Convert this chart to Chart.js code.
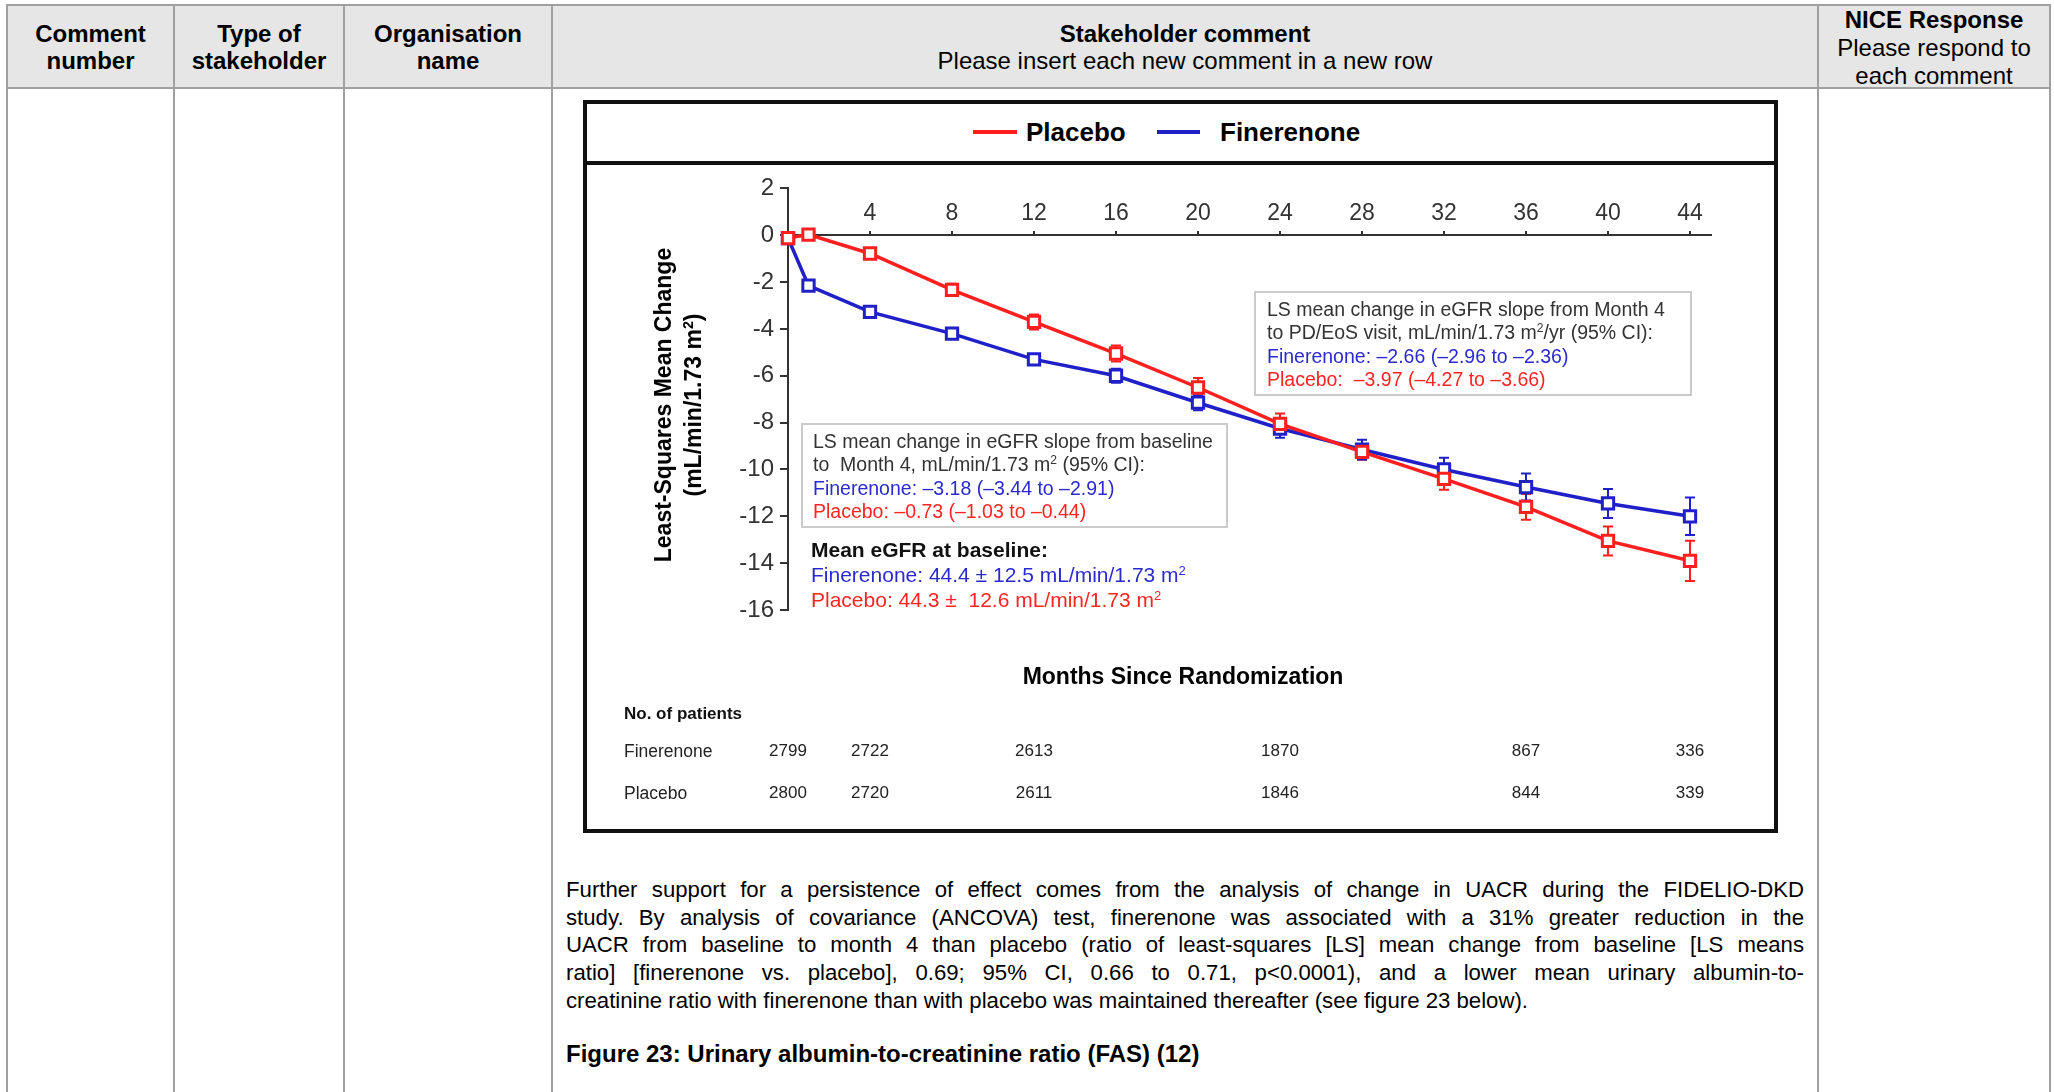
<!DOCTYPE html>
<html><head><meta charset="utf-8">
<script src="https://cdn.jsdelivr.net/npm/chart.js@4.4.1/dist/chart.umd.min.js"></script>
<style>
html,body{margin:0;padding:0;background:#fff;}
body{width:2054px;height:1092px;overflow:hidden;position:relative;font-family:"Liberation Sans",Arial,sans-serif;color:#000;}
.a{position:absolute;white-space:nowrap;}
.hl{position:absolute;height:2px;background:#a0a0a0;}
.vl{position:absolute;width:2px;background:#a0a0a0;top:4px;height:1090px;}
.hd{position:absolute;text-align:center;font-size:24px;line-height:27.5px;white-space:nowrap;}
.b{font-weight:bold;}
sup{font-size:0.62em;vertical-align:0.55em;line-height:0;}
.box{position:absolute;border:2px solid #cbcbcb;box-sizing:border-box;}
.ann{font-size:19.5px;line-height:23.3px;color:#333;}
.fb{color:#2a2ad0;}
.pr{color:#ff2424;}
.para{position:absolute;left:566px;width:1238px;font-size:22.2px;line-height:27.7px;text-align:justify;text-align-last:justify;}
.frame{position:absolute;left:583px;top:100px;width:1195px;height:733px;border:4px solid #111;box-sizing:border-box;}
</style></head>
<body>
<!-- table header background -->
<div class="a" style="left:7px;top:5px;width:2043px;height:83px;background:#e6e6e6;"></div>
<div class="hl" style="left:7px;top:4px;width:2043px;"></div>
<div class="hl" style="left:7px;top:87px;width:2043px;"></div>
<div class="vl" style="left:6px;"></div>
<div class="vl" style="left:173px;"></div>
<div class="vl" style="left:343px;"></div>
<div class="vl" style="left:551px;"></div>
<div class="vl" style="left:1817px;"></div>
<div class="vl" style="left:2049px;"></div>

<div class="hd b" style="left:8px;width:165px;top:19.5px;">Comment<br>number</div>
<div class="hd b" style="left:175px;width:168px;top:19.5px;">Type of<br>stakeholder</div>
<div class="hd b" style="left:345px;width:206px;top:19.5px;">Organisation<br>name</div>
<div class="hd" style="left:553px;width:1264px;top:19.5px;"><span class="b">Stakeholder comment</span><br>Please insert each new comment in a new row</div>
<div class="hd" style="left:1819px;width:230px;top:6px;line-height:28px;"><span class="b">NICE Response</span><br>Please respond to<br>each comment</div>

<!-- chart frame -->
<div class="frame"></div>
<div class="a" style="left:583px;top:161px;width:1195px;height:4px;background:#111;"></div>

<!-- legend -->
<div class="a" style="left:973px;top:130px;width:44px;height:4px;background:#ff1f1f;"></div>
<div class="a b" style="left:1026px;top:117px;font-size:26px;line-height:30px;">Placebo</div>
<div class="a" style="left:1157px;top:130px;width:43px;height:4px;background:#2020c8;"></div>
<div class="a b" style="left:1220px;top:117px;font-size:26px;line-height:30px;">Finerenone</div>

<canvas id="c" width="1186" height="658" style="position:absolute;left:588px;top:168px;"></canvas>

<!-- y axis title -->
<div class="a b" style="left:678px;top:405px;width:600px;text-align:center;font-size:23px;line-height:30px;transform:translate(-50%,-50%) rotate(-90deg);">Least-Squares Mean Change<br>(mL/min/1.73 m<sup>2</sup>)</div>

<!-- annotation boxes -->
<div class="box" style="left:1254px;top:291px;width:438px;height:105px;"></div>
<div class="a ann" style="left:1267px;top:298px;">LS mean change in eGFR slope from Month 4<br>to PD/EoS visit, mL/min/1.73 m<sup>2</sup>/yr (95% CI):<br><span class="fb">Finerenone: &#8211;2.66 (&#8211;2.96 to &#8211;2.36)</span><br><span class="pr">Placebo:&nbsp; &#8211;3.97 (&#8211;4.27 to &#8211;3.66)</span></div>

<div class="box" style="left:801px;top:423px;width:427px;height:105px;"></div>
<div class="a ann" style="left:813px;top:430px;">LS mean change in eGFR slope from baseline<br>to&nbsp; Month 4, mL/min/1.73 m<sup>2</sup> (95% CI):<br><span class="fb">Finerenone: &#8211;3.18 (&#8211;3.44 to &#8211;2.91)</span><br><span class="pr">Placebo: &#8211;0.73 (&#8211;1.03 to &#8211;0.44)</span></div>

<div class="a" style="left:811px;top:537px;font-size:21px;line-height:25px;"><span class="b" style="color:#111;">Mean eGFR at baseline:</span><br><span class="fb">Finerenone: 44.4 &#177; 12.5 mL/min/1.73 m<sup>2</sup></span><br><span class="pr">Placebo: 44.3 &#177;&nbsp; 12.6 mL/min/1.73 m<sup>2</sup></span></div>

<div class="a b" style="left:1183px;top:662px;transform:translateX(-50%);font-size:23px;line-height:28px;">Months Since Randomization</div>

<div class="a b" style="left:624px;top:703px;font-size:17px;line-height:22px;color:#111;">No. of patients</div>
<div class="a" style="left:624px;top:740px;font-size:17.5px;line-height:22px;color:#222;">Finerenone</div>
<div class="a" style="left:624px;top:782px;font-size:17.5px;line-height:22px;color:#222;">Placebo</div>

<!-- body text -->
<div class="para" style="top:876px;">Further support for a persistence of effect comes from the analysis of change in UACR during the FIDELIO-DKD</div>
<div class="para" style="top:903.7px;">study. By analysis of covariance (ANCOVA) test, finerenone was associated with a 31% greater reduction in the</div>
<div class="para" style="top:931.4px;">UACR from baseline to month 4 than placebo (ratio of least-squares [LS] mean change from baseline [LS means</div>
<div class="para" style="top:959.1px;">ratio] [finerenone vs. placebo], 0.69; 95% CI, 0.66 to 0.71, p&lt;0.0001), and a lower mean urinary albumin-to-</div>
<div class="para" style="top:986.8px;text-align-last:left;">creatinine ratio with finerenone than with placebo was maintained thereafter (see figure 23 below).</div>
<div class="a b" style="left:566px;top:1040px;font-size:24px;line-height:28px;">Figure 23: Urinary albumin-to-creatinine ratio (FAS) (12)</div>

<script>
const months = [0, 1, 4, 8, 12, 16, 20, 24, 28, 32, 36, 40, 44];
const placebo = [-0.12, 0.03, -0.78, -2.33, -3.7, -5.05, -6.5, -8.05, -9.25, -10.4, -11.6, -13.05, -13.9];
const placeboErr = [0, 0, 0.2, 0.26, 0.32, 0.34, 0.4, 0.44, 0.34, 0.47, 0.55, 0.62, 0.86];
const finerenone = [-0.12, -2.15, -3.27, -4.2, -5.3, -6.0, -7.15, -8.25, -9.15, -10.0, -10.75, -11.45, -12.0];
const finerenoneErr = [0, 0.15, 0.18, 0.2, 0.22, 0.3, 0.32, 0.4, 0.42, 0.5, 0.58, 0.62, 0.8];
const xTicks = [4, 8, 12, 16, 20, 24, 28, 32, 36, 40, 44];
const yTicks = [2, 0, -2, -4, -6, -8, -10, -12, -14, -16];
const patientMonths = [0, 4, 12, 24, 36, 44];
const finerenoneN = [2799, 2722, 2613, 1870, 867, 336];
const placeboN = [2800, 2720, 2611, 1846, 844, 339];

const RED = '#ff1f1f', BLUE = '#2020c8', AX = '#333333';

const errorBars = {
  id: 'errorBars',
  beforeDatasetsDraw(chart) {
    const ctx = chart.ctx, xs = chart.scales.x, ys = chart.scales.y;
    chart.data.datasets.forEach((ds) => {
      ctx.save();
      ctx.strokeStyle = ds.borderColor;
      ctx.lineWidth = 2;
      ds.data.forEach((p, j) => {
        const e = ds.errors[j];
        if (!e) return;
        const x = xs.getPixelForValue(p.x);
        const y1 = ys.getPixelForValue(p.y + e), y2 = ys.getPixelForValue(p.y - e);
        ctx.beginPath();
        ctx.moveTo(x, y1); ctx.lineTo(x, y2);
        ctx.moveTo(x - 5, y1); ctx.lineTo(x + 5, y1);
        ctx.moveTo(x - 5, y2); ctx.lineTo(x + 5, y2);
        ctx.stroke();
      });
      ctx.restore();
    });
  }
};

const patientTable = {
  id: 'patientTable',
  afterDraw(chart) {
    const ctx = chart.ctx, xs = chart.scales.x;
    ctx.save();
    ctx.font = '17px "Liberation Sans", Arial, sans-serif';
    ctx.fillStyle = '#222';
    ctx.textAlign = 'center';
    ctx.textBaseline = 'middle';
    patientMonths.forEach((m, i) => {
      const x = xs.getPixelForValue(m);
      ctx.fillText(String(finerenoneN[i]), x, 751 - 168);
      ctx.fillText(String(placeboN[i]), x, 793 - 168);
    });
    ctx.restore();
  }
};

function pts(ys) { return months.map((m, i) => ({x: m, y: ys[i]})); }

new Chart(document.getElementById('c'), {
  type: 'line',
  data: {
    datasets: [
      { label: 'Placebo', data: pts(placebo), errors: placeboErr, borderColor: RED, backgroundColor: '#fff',
        borderWidth: 3.5, pointStyle: 'rect', pointRadius: 8, pointBorderWidth: 3, pointBackgroundColor: '#fff',
        pointBorderColor: RED, tension: 0, clip: false },
      { label: 'Finerenone', data: pts(finerenone), errors: finerenoneErr, borderColor: BLUE, backgroundColor: '#fff',
        borderWidth: 3.5, pointStyle: 'rect', pointRadius: 8, pointBorderWidth: 3, pointBackgroundColor: '#fff',
        pointBorderColor: BLUE, tension: 0, clip: false }
    ]
  },
  options: {
    responsive: false,
    animation: false,
    events: [],
    layout: { padding: { left: 140, right: 63.5, top: 18.7, bottom: 216 } },
    plugins: { legend: { display: false }, tooltip: { enabled: false } },
    scales: {
      x: {
        type: 'linear', min: 0, max: 45, position: { y: 0 },
        afterBuildTicks: (s) => { s.ticks = xTicks.map(v => ({ value: v })); },
        ticks: { color: AX, font: { size: 23, family: '"Liberation Sans", Arial, sans-serif' }, padding: -30, maxRotation: 0, autoSkip: false },
        grid: { drawOnChartArea: false, drawTicks: true, tickLength: -5, color: AX, lineWidth: 2 },
        border: { color: AX, width: 2 }
      },
      y: {
        type: 'linear', min: -16, max: 2, position: 'left',
        afterBuildTicks: (s) => { s.ticks = yTicks.map(v => ({ value: v })); },
        afterFit: (s) => { s.width = 60; },
        ticks: { color: AX, font: { size: 24, family: '"Liberation Sans", Arial, sans-serif' }, padding: 6, autoSkip: false },
        grid: { drawOnChartArea: false, drawTicks: true, tickLength: 8, color: AX, lineWidth: 2 },
        border: { color: AX, width: 2 }
      }
    }
  },
  plugins: [errorBars, patientTable]
});
</script>
</body></html>
